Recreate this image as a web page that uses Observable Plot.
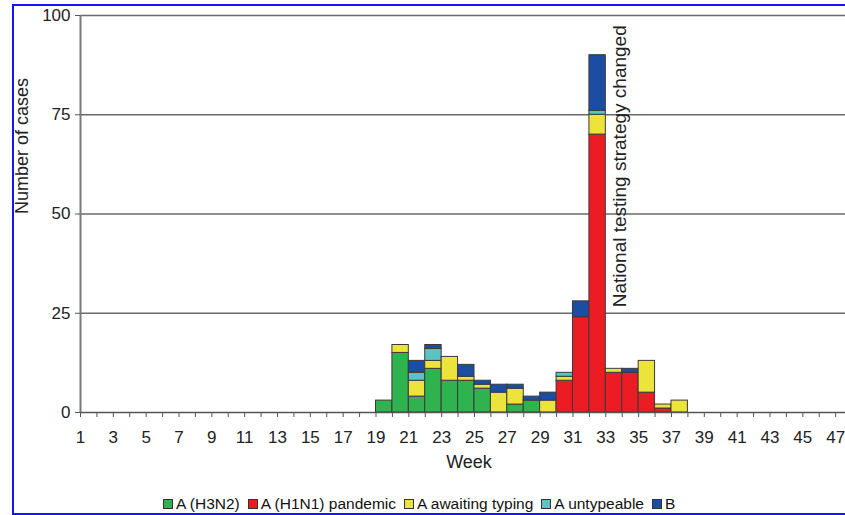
<!DOCTYPE html>
<html>
<head>
<meta charset="utf-8">
<script src="https://cdn.jsdelivr.net/npm/d3@7"></script>
<script src="https://cdn.jsdelivr.net/npm/@observablehq/plot@0.6"></script>
<style>
  html, body { margin: 0; padding: 0; background: #fff; }
  #wrap { position: relative; width: 845px; height: 515px; overflow: hidden; font-family: "Liberation Sans", Arial, sans-serif; }
  #frame { position: absolute; left: 12px; top: 4px; width: 850px; height: 507px; border-left: 2px solid #1414ff; border-top: 2px solid #1414ff; border-bottom: 2px solid #1414ff; pointer-events: none; }
  #legend { position: absolute; left: 163px; top: 495px; display: flex; align-items: center; font-size: 15.5px; color: #111; white-space: nowrap; }
  #legend .item { display: flex; align-items: center; margin-right: 8px; }
  #legend .sw { width: 8px; height: 8px; border: 1px solid #333; margin-right: 3px; }
</style>
</head>
<body>
<div id="wrap">
  <div id="chart"></div>
  <div id="legend"></div>
  <div id="frame"></div>
</div>
<script>
const weeks = [19,20,21,22,23,24,25,26,27,28,29,30,31,32,33,34,35,36,37];
const seriesNames = ["A (H3N2)", "A (H1N1) pandemic", "A awaiting typing", "A untypeable", "B"];
const seriesColors = ["#2fb34f", "#ec1c24", "#ece33c", "#5cc3c4", "#1b4ea3"];
const h3n2       = [3,15,4,11,8,8,6,0,2,3,0,0,0,0,0,0,0,0,0];
const h1n1       = [0,0,0,0,0,0,0,0,0,0,0,8,24,70,10,10,5,1,0];
const awaiting   = [0,2,4,2,6,1,1,5,4,0,3,1,0,5,1,0,8,1,3];
const untypeable = [0,0,2,3,0,0,0,0,0,0,0,1,0,1,0,0,0,0,0];
const typeB      = [0,0,3,1,0,3,1,2,1,1,2,0,4,14,0,1,0,0,0];
const yTicks = [0,25,50,75,100];
const xTicks = d3.range(1, 48);
const annotation = "National testing strategy changed";

const seriesValues = [h3n2, h1n1, awaiting, untypeable, typeB];
const table = [];
weeks.forEach((w, i) => {
  let base = 0;
  seriesValues.forEach((vals, s) => {
    const v = vals[i];
    if (v > 0) {
      table.push({week: w, series: seriesNames[s], y1: base, y2: base + v});
      base += v;
    }
  });
});

const font = '"Liberation Sans", Arial, sans-serif';
const chart = Plot.plot({
  width: 845,
  height: 485,
  marginLeft: 80,
  marginRight: 0,
  marginTop: 15,
  marginBottom: 73,
  style: {fontFamily: font, fontSize: "17px", color: "#222", background: "#fff", overflow: "visible"},
  x: {type: "linear", domain: [1, 47.6], axis: null},
  y: {domain: [0, 100], axis: null},
  color: {domain: seriesNames, range: seriesColors},
  marks: [
    Plot.ruleY(yTicks.filter(d => d > 0), {stroke: "#6a6a6a", strokeWidth: 1.7}),
    Plot.rectY(table, {x1: "week", x2: d => d.week + 1, y1: "y1", y2: "y2", fill: "series", stroke: "#3a3a3a", strokeWidth: 1, inset: 0}),
    Plot.ruleX([1], {y1: 0, y2: 100, stroke: "#7a7a7a", strokeWidth: 2}),
    Plot.ruleY([0], {stroke: "#555", strokeWidth: 1.5}),
    Plot.axisY({ticks: yTicks, tickSize: 5, tickPadding: 5, stroke: "#555", label: null, fontSize: 17}),
    Plot.axisX({ticks: xTicks, tickFormat: d => d % 2 === 1 ? d : "", tickSize: 5, tickPadding: 13, stroke: "#555", label: null, fontSize: 17}),
    Plot.text(["Week"], {frameAnchor: "bottom", dx: 6, dy: 55, fontSize: 18, fill: "#222"}),
    Plot.text(["Number of cases"], {frameAnchor: "left", dx: -58, rotate: -90, fontSize: 18, fill: "#222"}),
    Plot.text([annotation], {x: [33.85], y: [26.5], rotate: -90, textAnchor: "start", fontSize: 19, fill: "#222"})
  ]
});
document.getElementById("chart").appendChild(chart);

const legend = document.getElementById("legend");
seriesNames.forEach((name, i) => {
  const item = document.createElement("div");
  item.className = "item";
  const sw = document.createElement("span");
  sw.className = "sw";
  sw.style.background = seriesColors[i];
  const t = document.createElement("span");
  t.textContent = name;
  item.appendChild(sw);
  item.appendChild(t);
  legend.appendChild(item);
});
</script>
</body>
</html>
